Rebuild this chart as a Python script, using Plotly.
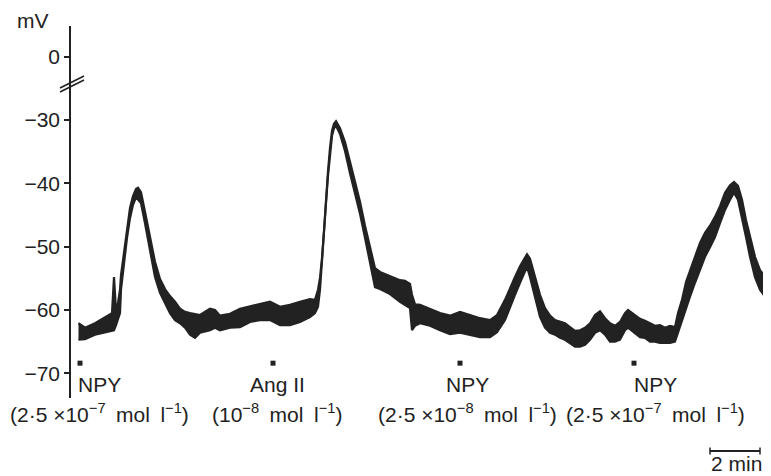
import plotly.graph_objects as go

# ---------------- data (time in min, membrane potential in mV) ----------------
time_min = [0.00, 0.26, 0.66, 1.06, 1.34, 1.42, 1.50, 1.58, 1.66, 1.70, 1.82, 1.94, 2.06, 2.18, 2.30, 2.38,
            2.50, 2.66, 2.86, 3.06, 3.26, 3.46, 3.66, 3.86, 4.06, 4.26, 4.46, 4.66, 4.86, 5.26, 5.46, 5.66,
            6.06, 6.46, 6.86, 7.26, 7.66, 8.06, 8.46, 8.86, 9.26, 9.46, 9.58, 9.66, 9.74, 9.82, 9.90, 9.98,
            10.06, 10.14, 10.22, 10.30, 10.46, 10.66, 10.86, 11.06, 11.26, 11.46, 11.66, 11.86, 12.06, 12.46,
            12.86, 13.06, 13.26, 13.34, 13.46, 13.66, 14.06, 14.46, 14.86, 15.26, 15.66, 16.06, 16.46, 16.74,
            17.06, 17.26, 17.46, 17.66, 17.86, 17.94, 18.06, 18.26, 18.46, 18.66, 18.86, 19.06, 19.26, 19.46,
            19.66, 19.86, 20.06, 20.26, 20.46, 20.66, 20.86, 21.06, 21.26, 21.46, 21.66, 21.86, 21.98, 22.26,
            22.46, 22.66, 22.86, 23.06, 23.26, 23.46, 23.66, 23.86, 23.98, 24.14, 24.30, 24.46, 24.66, 24.86,
            25.06, 25.26, 25.46, 25.66, 25.86, 26.06, 26.22, 26.38, 26.54, 26.70, 26.86, 27.06, 27.26, 27.46,
            27.70]

mv_upper = [-62.1, -62.8, -62.1, -61.1, -60.5, -54.8, -60.0, -58.9, -56.8, -54.5, -50.8, -47.1, -43.9, -42.0,
            -40.9, -40.7, -41.4, -44.5, -48.6, -52.4, -55.1, -56.7, -57.8, -58.7, -59.8, -60.3, -60.5, -60.6,
            -60.8, -59.8, -60.0, -60.9, -60.6, -59.8, -59.4, -59.1, -58.7, -59.5, -59.2, -58.7, -58.3, -58.4,
            -56.8, -54.9, -51.8, -47.5, -42.3, -38.1, -34.4, -31.7, -30.6, -30.2, -31.3, -33.5, -36.6, -39.8,
            -42.9, -46.7, -49.9, -53.4, -54.0, -54.6, -55.3, -55.4, -55.9, -57.6, -59.1, -59.2, -59.8, -60.5,
            -60.9, -60.3, -60.8, -61.3, -61.6, -60.8, -58.4, -56.5, -54.8, -53.1, -51.6, -51.2, -51.9, -54.6,
            -57.6, -59.7, -60.9, -61.6, -61.9, -62.1, -62.7, -63.3, -63.2, -62.8, -62.1, -60.8, -60.2, -61.3,
            -62.1, -62.5, -61.9, -60.5, -60.0, -60.8, -61.4, -61.7, -62.1, -62.5, -62.4, -62.8, -62.5, -62.7,
            -60.5, -58.4, -55.6, -53.7, -51.6, -49.4, -47.8, -46.7, -45.3, -43.6, -41.5, -40.3, -39.8, -40.4,
            -42.6, -45.8, -48.5, -51.6, -53.7, -54.8, -55.7]

mv_lower = [-64.7, -64.6, -63.9, -63.5, -63.2, -63.2, -62.4, -61.3, -60.5, -56.8, -52.4, -48.6, -45.5, -43.4,
            -42.2, -42.5, -43.1, -46.3, -50.8, -54.8, -57.3, -58.9, -60.5, -61.6, -62.1, -62.8, -63.9, -64.4,
            -63.6, -63.2, -62.8, -63.2, -62.8, -62.7, -61.9, -61.6, -61.6, -62.4, -62.4, -61.9, -61.1, -60.5,
            -59.5, -56.8, -52.7, -48.5, -43.1, -38.8, -35.2, -32.5, -31.3, -30.9, -32.2, -34.9, -38.4, -41.5,
            -44.8, -48.6, -52.3, -56.4, -56.7, -57.5, -58.7, -59.2, -59.7, -63.2, -62.5, -62.1, -62.5, -63.2,
            -63.8, -63.6, -63.9, -64.3, -64.3, -63.5, -61.6, -59.5, -57.6, -55.7, -53.7, -53.2, -54.8, -57.9,
            -61.1, -62.8, -63.6, -63.9, -64.4, -64.7, -65.2, -65.8, -65.8, -65.5, -64.7, -63.6, -63.2, -63.9,
            -65.0, -65.0, -64.7, -63.2, -62.8, -63.6, -64.3, -64.4, -65.0, -65.0, -65.2, -65.2, -65.2, -65.0,
            -63.6, -61.6, -59.5, -57.9, -55.7, -53.7, -51.6, -50.1, -48.5, -46.3, -44.2, -42.6, -41.5, -42.6,
            -45.3, -48.5, -51.6, -54.8, -56.8, -57.9, -58.9]

# drug applications
stim_time_min = [0.06, 7.78, 15.26, 22.22]
stim_drug = ["NPY", "Ang II", "NPY", "NPY"]
stim_conc = ["(2·5 ×10<sup>−7</sup>\u2002mol\u2002l<sup>−1</sup>)",
             "(10<sup>−8</sup>\u2002mol\u2002l<sup>−1</sup>)",
             "(2·5 ×10<sup>−8</sup>\u2002mol\u2002l<sup>−1</sup>)",
             "(2·5 ×10<sup>−7</sup>\u2002mol\u2002l<sup>−1</sup>)"]

# y axis ticks (0 is shown above an axis break)
tick_vals = [-20, -30, -40, -50, -60, -70]
tick_text = ["0", "−30", "−40", "−50", "−60", "−70"]

scale_bar_min = 2

# ---------------- figure ----------------
INK = "#222222"
TXT = "#222222"
FONT = "Liberation Sans, Arial, Helvetica, sans-serif"

fig = go.Figure()
fig.add_trace(go.Scatter(x=time_min, y=mv_lower, mode="lines",
                         line=dict(color=INK, width=2.2), hoverinfo="skip", showlegend=False))
fig.add_trace(go.Scatter(x=time_min, y=mv_upper, mode="lines", fill="tonexty", fillcolor=INK,
                         line=dict(color=INK, width=2.2), hoverinfo="skip", showlegend=False))
fig.add_trace(go.Scatter(x=stim_time_min, y=[-68.4] * len(stim_time_min), mode="markers",
                         marker=dict(symbol="square", size=5, color=INK),
                         hoverinfo="skip", showlegend=False))

# label placement (x offsets in minutes from the application marker)
label_dx = [0.76, 0.16, 0.28, 0.84]
annotations = []
for t, dx, drug, conc in zip(stim_time_min, label_dx, stim_drug, stim_conc):
    annotations.append(dict(x=t + dx, xref="x", y=0.036, yref="paper", text=drug, showarrow=False,
                            xanchor="center", yanchor="middle", font=dict(size=21, color=TXT, family=FONT)))
    annotations.append(dict(x=t + dx, xref="x", y=-0.040, yref="paper", text=conc, showarrow=False,
                            xanchor="center", yanchor="middle", font=dict(size=21, color=TXT, family=FONT)))

annotations.append(dict(x=-0.054, xref="paper", y=1.016, yref="paper", text="mV", showarrow=False,
                        xanchor="center", yanchor="middle", font=dict(size=21, color=TXT, family=FONT)))

sb_x0 = 25.26
annotations.append(dict(x=sb_x0 + scale_bar_min / 2 + 0.05, xref="x", y=-0.176, yref="paper",
                        text=f"{scale_bar_min} min", showarrow=False, xanchor="center", yanchor="middle",
                        font=dict(size=21, color=TXT, family=FONT)))

shapes = [
    # axis break marks
    dict(type="line", xref="paper", yref="paper", x0=-0.0157, y0=0.8333, x1=0.0186, y1=0.8656,
         line=dict(color=INK, width=1.6)),
    dict(type="line", xref="paper", yref="paper", x0=-0.0157, y0=0.8226, x1=0.0186, y1=0.8548,
         line=dict(color=INK, width=1.6)),
    # scale bar
    dict(type="line", xref="x", yref="paper", x0=sb_x0, y0=-0.1425, x1=sb_x0 + scale_bar_min, y1=-0.1425,
         line=dict(color=INK, width=2)),
    dict(type="line", xref="x", yref="paper", x0=sb_x0, y0=-0.133, x1=sb_x0, y1=-0.152,
         line=dict(color=INK, width=1.5)),
    dict(type="line", xref="x", yref="paper", x0=sb_x0 + scale_bar_min, y0=-0.133,
         x1=sb_x0 + scale_bar_min, y1=-0.152, line=dict(color=INK, width=1.5)),
]

# the page body has an 8 px margin, so the figure is 8 px smaller and offset accordingly
fig.update_layout(
    width=763, height=468,
    margin=dict(l=63, r=0, t=18, b=78),
    paper_bgcolor="white", plot_bgcolor="white",
    font=dict(family=FONT, size=21, color=TXT),
    xaxis=dict(range=[-0.3, 27.7], visible=False, fixedrange=True),
    yaxis=dict(range=[-73.9, -15.16], tickvals=tick_vals, ticktext=tick_text,
               showline=True, linecolor=INK, linewidth=1.5, ticks="outside", ticklen=5,
               tickwidth=1.5, tickcolor=INK, showgrid=False, zeroline=False,
               tickfont=dict(size=21, color=TXT, family=FONT), fixedrange=True),
    annotations=annotations,
    shapes=shapes,
    showlegend=False,
)

fig.write_html("out.html")
